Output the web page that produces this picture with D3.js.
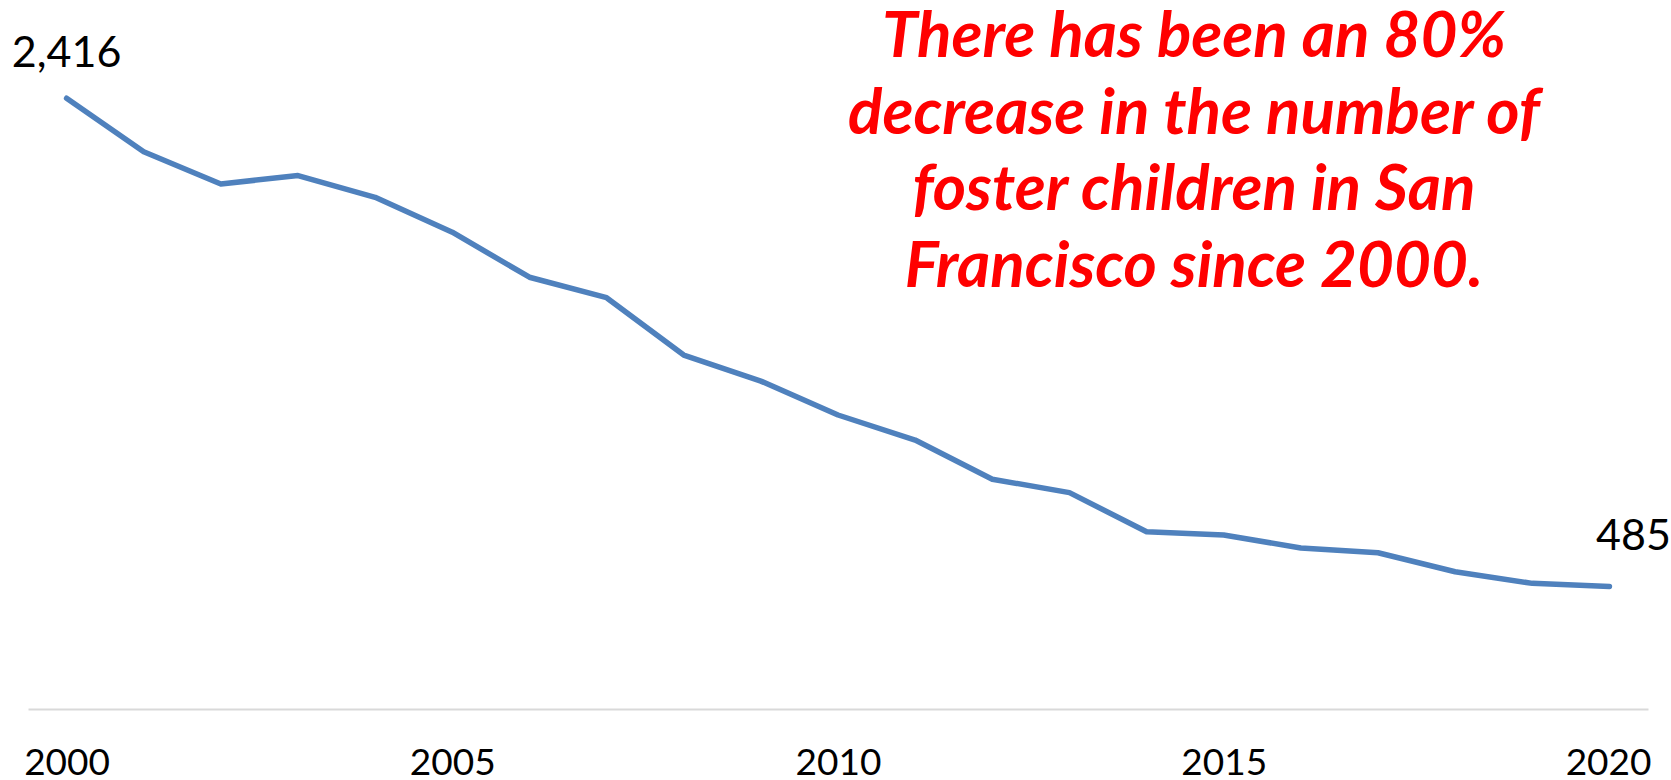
<!DOCTYPE html>
<html>
<head>
<meta charset="utf-8">
<script src="https://cdnjs.cloudflare.com/ajax/libs/d3/7.8.5/d3.min.js"></script>
<style>
    body {
        margin: 0;
        background: #ffffff;
    }

    svg {
        display: block;
        font-family: Lato, "Open Sans", "Noto Sans", sans-serif;
    }

    .axis path {
        stroke: #d9d9d9;
        stroke-width: 2px;
    }

    .axis text {
        font-size: 37px;
        fill: #000000;
    }

    .line {
        fill: none;
        stroke: #4f81bd;
        stroke-width: 5.5px;
        stroke-linejoin: round;
        stroke-linecap: round;
    }

    .label {
        font-size: 43px;
        fill: #000000;
    }

    .note {
        font-weight: bold;
        font-style: italic;
        fill: #ff0000;
        text-anchor: middle;
    }
</style>
</head>
<body>
<svg width="1671" height="780"></svg>
<script>
// the data: number of foster children in San Francisco per year
var years = [2000, 2001, 2002, 2003, 2004, 2005, 2006, 2007, 2008, 2009, 2010,
    2011, 2012, 2013, 2014, 2015, 2016, 2017, 2018, 2019, 2020];
var children = [2416, 2204, 2077, 2110, 2024, 1886, 1708, 1627, 1400, 1297, 1163,
    1064, 909, 856, 701, 688, 637, 618, 543, 497, 485];
var tickYears = [2000, 2005, 2010, 2015, 2020];
var labelYears = [2000, 2020];
var noteLines = ["There has been an 80%", "decrease in the number of",
    "foster children in San", "Francisco since 2000."];

var svg = d3.select("svg"),
    margin = {
        top: 77,
        right: 23,
        bottom: 71,
        left: 28
    },
    width = +svg.attr("width") - margin.left - margin.right,
    height = +svg.attr("height") - margin.top - margin.bottom;

var data = years.map(function (d, i) {
    return { year: d, value: children[i] };
});

// one slot per year, points sit in the middle of their slot
var x = d3.scalePoint().domain(years).range([0, width]).padding(0.5),
    y = d3.scaleLinear().domain([0, 2500]).range([height, 0]);

var g = svg.append("g")
    .attr("transform", "translate(" + margin.left + "," + margin.top + ")");

// x axis: only the grey line and a label every five years
var xAxis = g.append("g")
    .attr("class", "axis axis--x")
    .attr("transform", "translate(0," + height + ")")
    .call(d3.axisBottom(x).tickValues(tickYears).tickSize(0).tickSizeOuter(0).tickPadding(40));

// let the labels use the page font instead of the axis default
xAxis.attr("font-family", null)
    .attr("font-size", null);

// last label is pushed in so it stays inside the axis line
xAxis.selectAll(".tick")
    .filter(function (d) { return d === 2020; })
    .select("text")
    .attr("text-anchor", "end")
    .attr("x", width + 3 - x(2020));

var line = d3.line()
    .x(function (d) { return x(d.year); })
    .y(function (d) { return y(d.value); });

g.append("path")
    .datum(data)
    .attr("class", "line")
    .attr("d", line);

// value labels at the start and the end of the line
g.selectAll(".label")
    .data(data.filter(function (d) { return labelYears.indexOf(d.year) >= 0; }))
    .enter().append("text")
    .attr("class", "label")
    .attr("x", function (d) { return x(d.year) + (d.year === 2020 ? 24 : 0); })
    .attr("y", function (d) { return y(d.value) - (d.year === 2020 ? 36 : 31); })
    .attr("text-anchor", "middle")
    .text(function (d) { return d3.format(",")(d.value); });

// red note, font size is fitted on the widest line
var note = svg.append("text")
    .attr("class", "note")
    .attr("font-size", 65);

note.selectAll("tspan")
    .data(noteLines)
    .enter().append("tspan")
    .attr("x", 1194)
    .attr("y", function (d, i) { return 57 + i * 76.6; })
    .text(function (d) { return d; });

var widest = note.selectAll("tspan").nodes()[1].getComputedTextLength();
note.attr("font-size", 65 * 692 / widest);
</script>
</body>
</html>
